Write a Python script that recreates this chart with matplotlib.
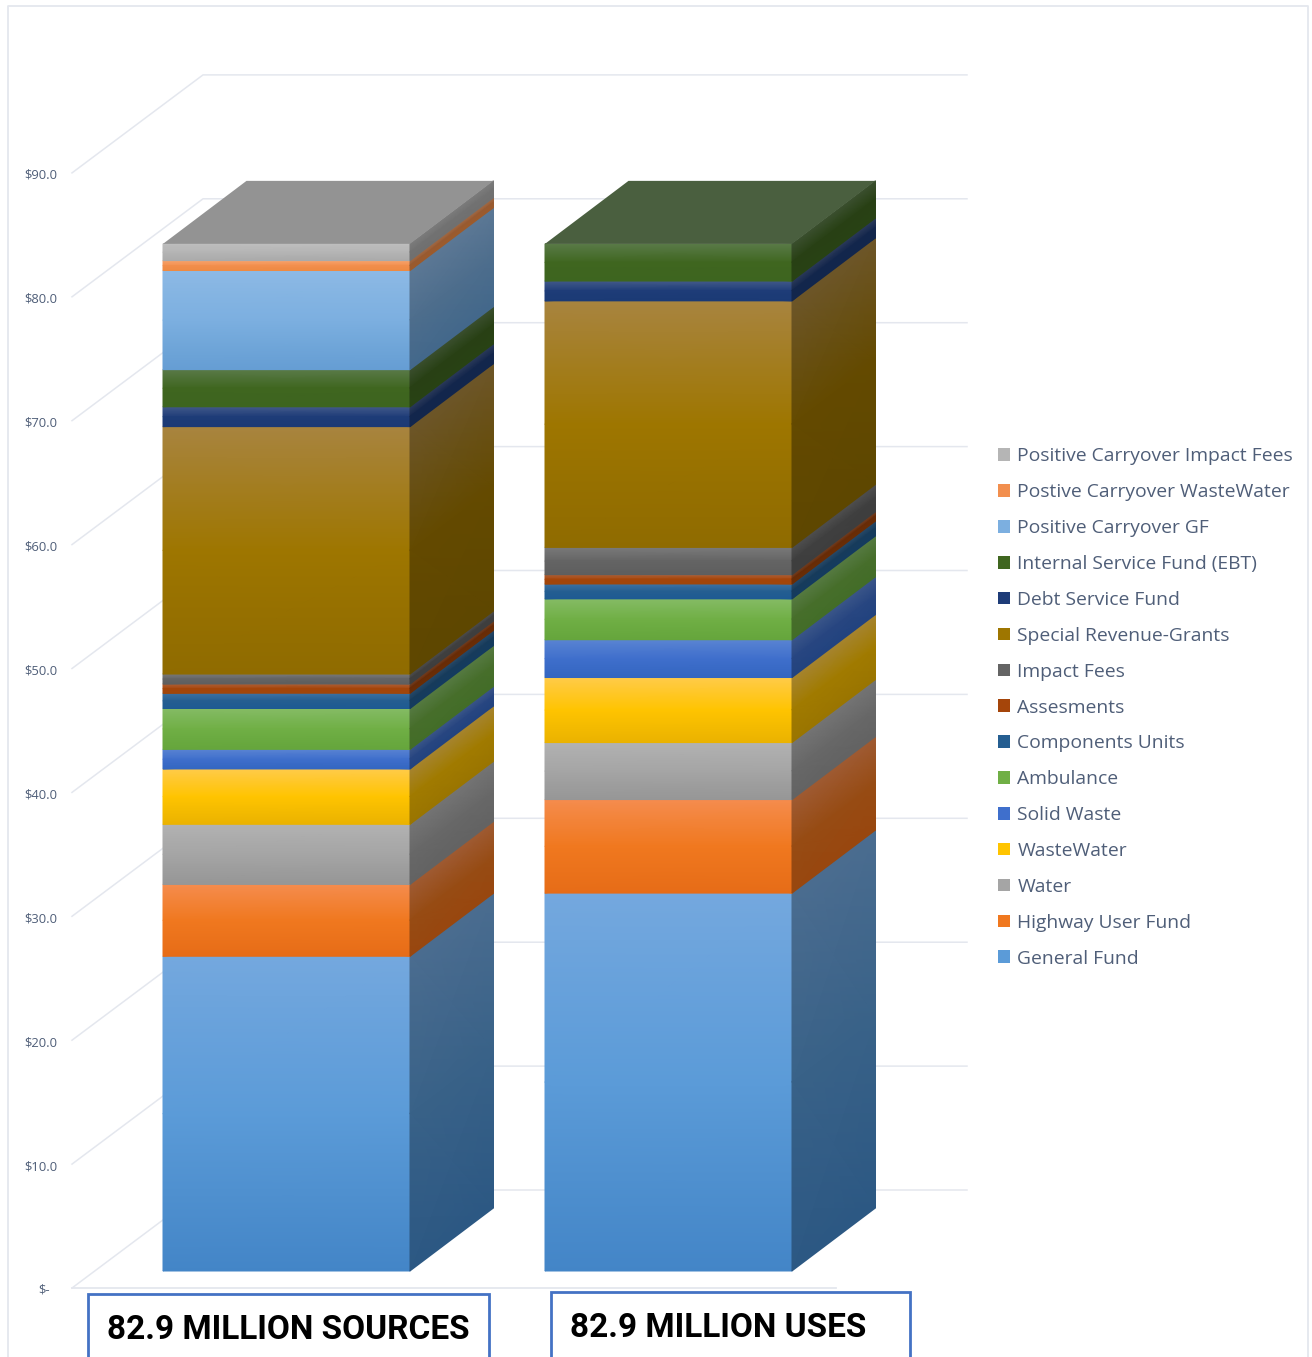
import numpy as np
import matplotlib
matplotlib.use("Agg")
import matplotlib.pyplot as plt
from matplotlib.colors import LinearSegmentedColormap, to_rgb
from matplotlib.patches import Patch, Rectangle

# ---- data ($ millions) ----
series = ["General Fund", "Highway User Fund", "Water", "WasteWater", "Solid Waste",
          "Ambulance", "Components Units", "Assesments", "Impact Fees",
          "Special Revenue-Grants", "Debt Service Fund", "Internal Service Fund (EBT)",
          "Positive Carryover GF", "Postive Carryover WasteWater",
          "Positive Carryover Impact Fees"]
sources = [25.4, 5.8, 4.85, 4.47, 1.58, 3.3, 1.23, 0.75, 0.8, 19.97, 1.6, 3.0, 8.0, 0.8, 1.35]
uses = [30.5, 7.55, 4.6, 5.25, 3.05, 3.3, 1.2, 0.75, 2.2, 19.9, 1.6, 3.0, 0, 0, 0]
column_labels = ["82.9 MILLION SOURCES", "82.9 MILLION USES"]
tick_values = [0, 10, 20, 30, 40, 50, 60, 70, 80, 90]

# ---- colours ----
light = ["#74A8DE", "#F58C4E", "#B2B2B2", "#FFCB4A", "#5A84D2", "#85BB65", "#3E72A2", "#B0623A",
         "#7A7A7A", "#A8843F", "#435A8A", "#5A7A48", "#8DB9E5", "#F9A56E", "#BEBEBE"]
mid = ["#5B9BD8", "#F0781F", "#A5A5A5", "#FFC400", "#3F6FCC", "#70AF45", "#255E91", "#A5450A",
       "#646464", "#9E7600", "#1E3C78", "#3F661F", "#7CAFE0", "#F28F4E", "#B5B5B5"]
dark = ["#4385C7", "#E66C17", "#969696", "#EAB200", "#3366C0", "#65A53C", "#1E5A92", "#A0460A",
        "#5E5E5E", "#8F6B00", "#1B3A75", "#3D651F", "#659DD3", "#EE8A42", "#AAAAAA"]
top_colors = ["#939393", "#4A5F3F"]
grid_color = "#E4E7EE"
text_color = "#4F5E78"
box_color = "#4472C4"

# ---- layout (pixels on the page) ----
W, H = 1312, 1357
BASE_PX, PX_PER_UNIT = 1271, 12.39
BAR_LEFT, BAR_STEP, BAR_W = 163, 382, 247
DEPTH_X, DEPTH_PX = 83.5, 63
DEPTH_Y = DEPTH_PX / PX_PER_UNIT
def py(px):
    return (BASE_PX - px) / PX_PER_UNIT

plt.rcParams["font.family"] = ["Open Sans", "DejaVu Sans"]
fig = plt.figure(figsize=(W / 100, H / 100), dpi=100, facecolor="white")
ax = fig.add_axes([0, 0, 1, 1])
ax.set_xlim(0, W)
ax.set_ylim(py(H), py(0))
ax.axis("off")

# frame
ax.plot([8, 8, 1308, 1308], [py(H), py(6), py(6), py(H)], color=grid_color, lw=1.3, zorder=1)

# gridlines and tick labels
FLOOR_FRONT = py(1288)
FLOOR_BACK = py(1190)
LABEL_DROP = py(0) - py(2.5)
for v in tick_values:
    yf, yb = FLOOR_FRONT + v, FLOOR_BACK + v
    ax.plot([72, 203, 967], [yf, yb, yb], color=grid_color, lw=1.1, zorder=1)
    lab = "$-" if v == 0 else f"${v:.1f}"
    ax.text(24 if v else 38, yf - LABEL_DROP, lab, fontsize=9.4, color=text_color, va="center", ha="left", zorder=2)
ax.plot([72, 836], [FLOOR_FRONT, FLOOR_FRONT], color=grid_color, lw=1.3, zorder=1)

def shade(hexc, f):
    return tuple(c * f for c in to_rgb(hexc))

def face(xs, y0, y1, shear, cmap):
    """Gradient quad; y1 is the top edge. shear raises the right side."""
    t = np.array([y1, (y0 + y1) / 2, y0])
    X = np.array([[xs[0], xs[1]]] * 3, dtype=float)
    Y = np.column_stack([t, t + shear])
    C = np.array([[0, 0], [0.5, 0.5], [1, 1]], dtype=float)
    ax.pcolormesh(X, Y, C, shading="gouraud", cmap=cmap, vmin=0, vmax=1, zorder=3, rasterized=True)

for col, values in enumerate([sources, uses]):
    x0 = BAR_LEFT + col * BAR_STEP
    x1 = x0 + BAR_W
    x2 = x1 + DEPTH_X
    bottom = 0.0
    for i, v in enumerate(values):
        if v <= 0:
            continue
        top = bottom + v
        front = LinearSegmentedColormap.from_list(f"f{i}", [light[i], mid[i], dark[i]])
        side = LinearSegmentedColormap.from_list(
            f"s{i}", [shade(light[i], 0.65), shade(mid[i], 0.63), shade(dark[i], 0.66)])
        face((x0, x1), bottom, top, 0, front)
        face((x1, x2), bottom, top, DEPTH_Y, side)
        bottom = top
    ax.fill([x0, x1, x2, x0 + DEPTH_X], [bottom, bottom, bottom + DEPTH_Y, bottom + DEPTH_Y],
            color=top_colors[col], lw=0, zorder=3)

# caption boxes
boxes = [(88, 488.5, 1294, 107), (551, 910, 1292, 570)]
for (l, r, t, tx), lab in zip(boxes, column_labels):
    ax.add_patch(Rectangle((l, py(H + 10)), r - l, py(t) - py(H + 10), fc="white", ec=box_color, lw=2, zorder=4))
    ax.text(tx, py(t + 36), lab, family="Roboto", fontweight="bold", fontsize=24, color="black",
            va="center", ha="left", zorder=5)

# legend
handles = [Patch(facecolor=mid[i], edgecolor="none", label=series[i]) for i in range(len(series))][::-1]
leg = ax.legend(handles=handles, loc="upper left", bbox_to_anchor=(998 / W, 1 - 447.5 / H),
                frameon=False, fontsize=13.9, labelcolor=text_color, handlelength=0.63, handleheight=0.63,
                handletextpad=0.37, labelspacing=0.925, borderpad=0, borderaxespad=0)
leg.set_zorder(6)

fig.savefig("out.png", dpi=100)
